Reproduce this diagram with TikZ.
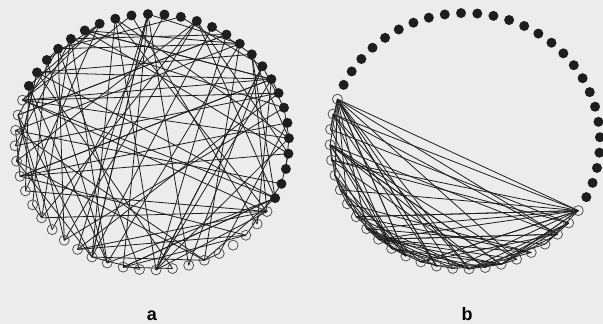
\documentclass[tikz,border=0pt]{standalone}
\usepackage{fontspec}
\newfontfamily\labfont{Liberation Sans}
\definecolor{bg}{RGB}{236,236,236}
\definecolor{ink}{RGB}{30,30,30}
\begin{document}
\begin{tikzpicture}[x=1pt,y=-1pt,
  filleddot/.style={circle,fill=ink,inner sep=0pt,minimum size=10pt},
  opendot/.style={circle,draw=ink!80,line width=0.75pt,inner sep=0pt,minimum size=10pt},
  edge/.style={draw=ink,line width=0.8pt},
  lab/.style={font=\labfont\bfseries\fontsize{18}{18}\selectfont,inner sep=0pt,anchor=base}]
\fill[bg] (0,0) rectangle (603,324);
\useasboundingbox (0,0) rectangle (603,324);
\foreach \i in {0,...,51}{
  \pgfmathsetmacro\t{154-\i*6.923077}
  \coordinate (a\i) at ({152+137*cos(\t)},{142-128*sin(\t)});
  \coordinate (b\i) at ({465+135*cos(\t)},{141-128*sin(\t)});
}
% (a) random chords over all nodes
\pgfmathsetseed{7}
\foreach \k in {1,...,110}{
  \pgfmathrandominteger{\u}{0}{51}
  \pgfmathrandominteger{\v}{0}{51}
  \draw[edge] (a\u) -- (a\v);
}
% (b) chords among open nodes only
\foreach \k in {1,...,75}{
  \pgfmathrandominteger{\u}{27}{51}
  \pgfmathrandominteger{\v}{27}{51}
  \draw[edge] (b\u) -- (b\v);
}
\foreach \j in {27,29,32,35,37,39,42,44,46,49} \draw[edge] (b51) -- (b\j);
\foreach \j in {30,33,36,38,41,43,45,47,50} \draw[edge] (b27) -- (b\j);
% dots
\foreach \i in {0,...,26}{
  \node[filleddot] (da\i) at (a\i) {};
  \node[filleddot] (db\i) at (b\i) {};
}
\foreach \i in {27,...,51}{
  \node[opendot] (da\i) at (a\i) {};
  \node[opendot] (db\i) at (b\i) {};
}
\node[lab] (la) at (152,320.5) {a};
\node[lab] (lb) at (467,320.5) {b};
\end{tikzpicture}
\end{document}
